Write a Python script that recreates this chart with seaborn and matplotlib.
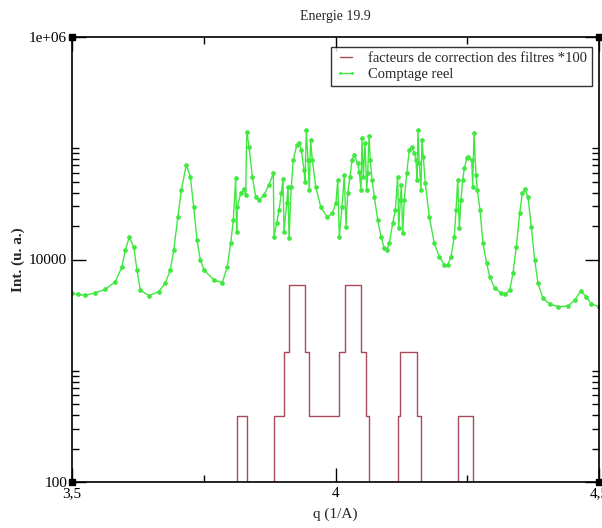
import numpy as np
import pandas as pd
import matplotlib
matplotlib.use("Agg")
import matplotlib.pyplot as plt
import matplotlib.ticker as mticker
import seaborn as sns

q_counts = [3.5, 3.5114, 3.5252, 3.5436, 3.5632, 3.5822, 3.5949, 3.6011, 3.6087, 3.6171,
            3.6233, 3.6296, 3.6455, 3.6645, 3.6770, 3.6865, 3.6930, 3.7011, 3.7074, 3.7169,
            3.7245, 3.7309, 3.7372, 3.7435, 3.7505, 3.7694, 3.7852, 3.7947, 3.8011, 3.8061,
            3.8106, 3.8125, 3.8137, 3.8201, 3.8264, 3.8296, 3.8315, 3.8359, 3.8421, 3.8486,
            3.8548, 3.8643, 3.8738, 3.8820, 3.8833, 3.8884, 3.8928, 3.8972, 3.9004, 3.9023,
            3.9074, 3.9099, 3.9118, 3.9161, 3.9199, 3.9264, 3.9307, 3.9351, 3.9402, 3.9421,
            3.9446, 3.9478, 3.9503, 3.9529, 3.9560, 3.9624, 3.9719, 3.9844, 3.9939, 4.0009,
            4.0042, 4.0072, 4.0123, 4.0167, 4.0199, 4.0231, 4.0275, 4.0313, 4.0357, 4.0421,
            4.0452, 4.0484, 4.0503, 4.0528, 4.0560, 4.0592, 4.0611, 4.0636, 4.0660, 4.0693,
            4.0736, 4.0801, 4.0863, 4.0926, 4.0972, 4.1021, 4.1085, 4.1135, 4.1180, 4.1199,
            4.1230, 4.1249, 4.1275, 4.1306, 4.1351, 4.1400, 4.1446, 4.1495, 4.1528, 4.1546,
            4.1565, 4.1590, 4.1622, 4.1641, 4.1666, 4.1704, 4.1780, 4.1875, 4.1970, 4.2065,
            4.2129, 4.2192, 4.2254, 4.2287, 4.2319, 4.2349, 4.2381, 4.2414, 4.2444, 4.2490,
            4.2520, 4.2585, 4.2603, 4.2628, 4.2666, 4.2691, 4.2742, 4.2799, 4.2869, 4.2926,
            4.3021, 4.3146, 4.3222, 4.3305, 4.3368, 4.3431, 4.3495, 4.3545, 4.3590, 4.3653,
            4.3715, 4.3780, 4.3843, 4.3937, 4.4065, 4.4222, 4.4412, 4.4539, 4.4653, 4.4759,
            4.4854, 4.5]
counts = [4970, 4850, 4770, 5000, 5400, 6320, 8620, 12170, 15830, 13030,
          8045, 5320, 4730, 5140, 6110, 8045, 12170, 24250, 42140, 70700,
          55510, 29830, 14980, 9900, 8045, 6540, 6190, 8620, 13980, 22650,
          53700, 17780, 29830, 39370, 42760, 38000, 140800, 103300, 55510, 36680,
          34250, 38000, 46730, 59530, 16030, 21150, 27850, 39370, 52600, 17780,
          32000, 45110, 15510, 45110, 78410, 106900, 110800, 96450, 63750, 50050,
          145900, 78410, 42140, 118700, 78410, 45110, 29830, 23950, 26020, 32000,
          51830, 16030, 29830, 57470, 19710, 39370, 55510, 78410, 86990, 73230,
          61530, 42140, 122900, 55510, 110800, 42140, 59530, 128900, 78410, 51830,
          36680, 22650, 16030, 12610, 12170, 13980, 21150, 27850, 55510, 19070,
          34250, 46730, 17200, 34250, 59530, 96450, 103300, 90080, 78410, 51830,
          145900, 73230, 42140, 118700, 83950, 48410, 24250, 13980, 10600, 8925,
          8925, 10600, 16030, 27850, 51830, 19070, 34250, 51830, 66040, 81220,
          83950, 78410, 45110, 136250, 57470, 42140, 27850, 13980, 9244, 7006,
          5510, 4970, 4870, 5320, 7516, 13030, 26020, 39370, 42760, 36680,
          19710, 9900, 6110, 4480, 3980, 3765, 3820, 4325, 5210, 4630,
          3980, 3765]

# filter correction factors * 100 (red steps)
q_filters = [3.5, 3.8125, 3.8315, 3.8833, 3.9023, 3.9118, 3.9430, 3.9500, 4.0060, 4.0185,
             4.0485, 4.0570, 4.0630, 4.1180, 4.1220, 4.1555, 4.1625, 4.2330, 4.2610, 4.5]
filters = [100, 390, 100, 390, 1470, 5900, 1470, 390, 1470, 5900,
           1470, 390, 100, 390, 1470, 390, 100, 390, 100, 100]

y_major = [100, 10000, 1e6]
y_labels = ["100", "10000", "1e+06"]
y_minor = [200, 300, 400, 500, 600, 700, 800, 900, 1000,
           20000, 30000, 40000, 50000, 60000, 70000, 80000, 90000, 100000]
x_major = [3.5, 4.0, 4.5]
x_labels = ["3,5", "4", "4,5"]
x_minor = [3.75, 4.25]

sns.set_style("ticks")
plt.rcParams["font.family"] = ["Liberation Serif", "DejaVu Serif"]

green = "#40e840"
red = "#a8485a"

fig = plt.figure(figsize=(6.02, 5.28), dpi=100)
ax = fig.add_axes([72 / 602, 1 - 482 / 528, 527 / 602, 445 / 528])

df_f = pd.DataFrame({"q": q_filters, "f": filters})
df_c = pd.DataFrame({"q": q_counts, "c": counts})

sns.lineplot(data=df_f, x="q", y="f", ax=ax, color=red, linewidth=1.0,
             drawstyle="steps-post", estimator=None, sort=False,
             label="facteurs de correction des filtres *100")
sns.lineplot(data=df_c, x="q", y="c", ax=ax, color=green, linewidth=1.0,
             marker="o", markersize=2.8, markeredgewidth=0.5, markeredgecolor=green,
             estimator=None, sort=False, label="Comptage reel")

ax.set_yscale("log")
ax.set_xlim(3.5, 4.5)
ax.set_ylim(100, 1e6)

ax.yaxis.set_major_locator(mticker.FixedLocator(y_major))
ax.yaxis.set_major_formatter(mticker.FixedFormatter(y_labels))
ax.yaxis.set_minor_locator(mticker.FixedLocator(y_minor))
ax.yaxis.set_minor_formatter(mticker.NullFormatter())
ax.xaxis.set_major_locator(mticker.FixedLocator(x_major))
ax.xaxis.set_major_formatter(mticker.FixedFormatter(x_labels))
ax.xaxis.set_minor_locator(mticker.FixedLocator(x_minor))

ax.tick_params(which="both", direction="in", top=True, right=True, colors="black",
               labelsize=11)
ax.tick_params(which="major", length=10, width=1)
ax.tick_params(which="minor", length=5, width=1)
for s in ax.spines.values():
    s.set_linewidth(1.2)
    s.set_color("black")

# corner squares like the original plot
xl, yl = ax.get_xlim(), ax.get_ylim()
ax.plot([xl[0], xl[0], xl[1], xl[1]], [yl[0], yl[1], yl[0], yl[1]], ls="none",
        marker="s", ms=5, color="black", clip_on=False, zorder=5)

ax.set_title("Energie 19.9", fontsize=10, pad=12)
ax.set_xlabel("q (1/A)", fontsize=11)
ax.set_ylabel("Int. (u. a.)", fontsize=11, fontweight="bold")
ax.xaxis.set_label_coords(0.5, -0.058)
ax.yaxis.set_label_coords(-0.09, 0.5)

leg = ax.legend(loc="upper right", bbox_to_anchor=(0.987, 0.9775), borderaxespad=0,
                fontsize=10.5, frameon=True, fancybox=False, handlelength=1.4,
                handletextpad=0.8, borderpad=0.35, labelspacing=0.15, numpoints=2)
leg.get_frame().set_edgecolor("black")
leg.get_frame().set_linewidth(1.0)
for h in leg.legend_handles:
    h.set_markersize(1.5)

fig.savefig("out.png", dpi=100)
